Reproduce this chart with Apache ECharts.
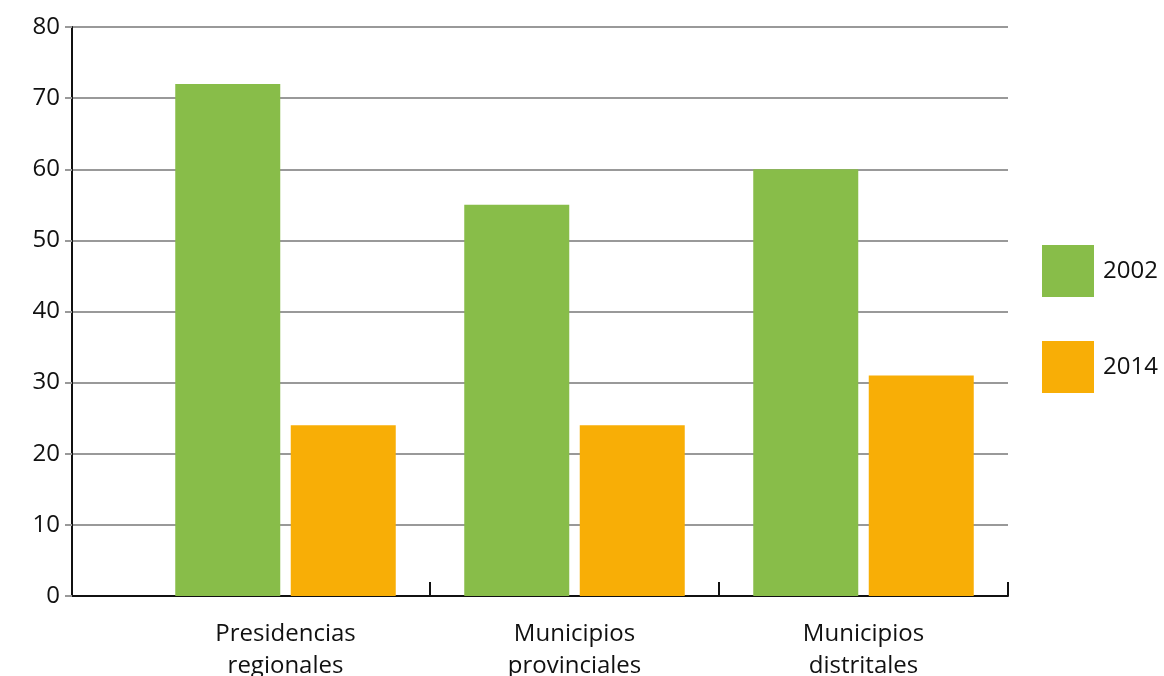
<!DOCTYPE html>
<html>
<head>
<meta charset="utf-8">
<script src="https://cdn.jsdelivr.net/npm/echarts@6/dist/echarts.min.js"></script>
<style>
  html, body { margin: 0; padding: 0; background: #ffffff; }
  #chart { width: 1164px; height: 676px; }
</style>
</head>
<body>
<div id="chart"></div>
<script>
// Categories and values per year
const categories = ['Presidencias\nregionales', 'Municipios\nprovinciales', 'Municipios\ndistritales'];
const years = ['2002', '2014'];
const values2002 = [72, 55, 60];
const values2014 = [24, 24, 31];
const yTicks = [0, 10, 20, 30, 40, 50, 60, 70, 80];

const FONT = '"Open Sans", "Noto Sans", sans-serif';
const GREEN = '#88bd49';
const ORANGE = '#f8ae06';

const chart = echarts.init(document.getElementById('chart'), null, { renderer: 'canvas' });

chart.setOption({
  animation: false,
  backgroundColor: '#ffffff',
  textStyle: { fontFamily: FONT },
  grid: [
    // frame grid: y axis, gridlines and the full-length baseline
    { left: 72, right: 156, top: 27, bottom: 80, outerBoundsMode: 'none', containLabel: false },
    // bar grid: categories start a little to the right of the y axis
    { left: 141, right: 156, top: 27, bottom: 80, outerBoundsMode: 'none', containLabel: false }
  ],
  legend: {
    orient: 'vertical',
    left: 1042,
    top: 245,
    padding: 0,
    itemWidth: 52,
    itemHeight: 52,
    itemGap: 44,
    icon: 'rect',
    data: years,
    textStyle: { fontFamily: FONT, fontSize: 24, color: '#111111', padding: [0, 0, 0, 4] }
  },
  xAxis: [
    {
      gridIndex: 0,
      type: 'category',
      data: [''],
      axisLine: { show: true, lineStyle: { color: '#111111', width: 2 } },
      axisTick: { show: false },
      axisLabel: { show: false },
      splitLine: { show: false }
    },
    {
      gridIndex: 1,
      type: 'category',
      data: categories,
      axisLine: { show: false },
      axisTick: {
        show: true,
        inside: true,
        length: 14,
        interval: function (i) { return i > 0; },
        lineStyle: { color: '#111111', width: 2 }
      },
      axisLabel: {
        interval: 0,
        margin: 22,
        fontFamily: FONT,
        fontSize: 24,
        lineHeight: 32,
        color: '#111111'
      },
      splitLine: { show: false }
    }
  ],
  yAxis: [
    {
      gridIndex: 0,
      type: 'value',
      min: 0,
      max: 80,
      interval: 10,
      axisLine: { show: true, lineStyle: { color: '#111111', width: 2 } },
      axisTick: { show: true, inside: false, length: 7, lineStyle: { color: '#999999', width: 2 } },
      axisLabel: {
        margin: 12,
        fontFamily: FONT,
        fontSize: 24,
        color: '#111111',
        customValues: yTicks
      },
      splitLine: { show: true, lineStyle: { color: '#999999', width: 2 } }
    },
    {
      gridIndex: 1,
      type: 'value',
      min: 0,
      max: 80,
      interval: 10,
      show: false
    }
  ],
  series: [
    {
      name: years[0],
      type: 'bar',
      xAxisIndex: 1,
      yAxisIndex: 1,
      data: values2002,
      barWidth: 105,
      barGap: '10%',
      itemStyle: { color: GREEN }
    },
    {
      name: years[1],
      type: 'bar',
      xAxisIndex: 1,
      yAxisIndex: 1,
      data: values2014,
      barWidth: 105,
      barGap: '10%',
      itemStyle: { color: ORANGE }
    }
  ]
});
</script>
</body>
</html>
